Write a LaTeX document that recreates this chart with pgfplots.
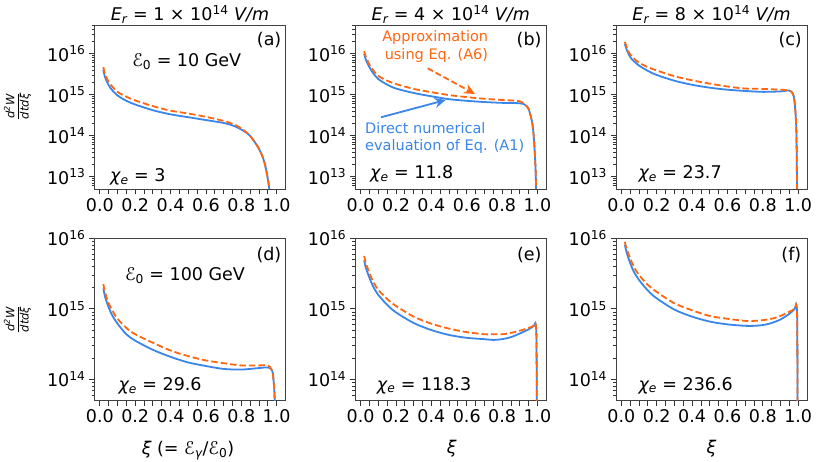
\documentclass[border=0pt]{standalone}
\usepackage{fontspec}
\setmainfont{DejaVu Sans}
\usepackage{pgfplots}
\pgfplotsset{compat=1.18}
\usetikzlibrary{arrows.meta}
\definecolor{cblue}{RGB}{58,134,232}
\definecolor{corange}{RGB}{255,102,17}
\newcommand{\fL}{\fontsize{17.5}{21}\selectfont}
\newcommand{\fM}{\fontsize{14.5}{17.5}\selectfont}
\newcommand{\fS}{\fontsize{11.5}{13}\selectfont}
\newcommand{\ylab}{$\displaystyle\frac{\hbox{\fS\itshape d\textsuperscript{2}W}}{\hbox{\fS\itshape dtdξ}}$}
\pgfplotsset{
  every axis/.append style={
    scale only axis, width=191pt,
    xmin=-0.03, xmax=1.05,
    xtick={0,0.05,0.1,0.15,0.2,0.25,0.3,0.35,0.4,0.45,0.5,0.55,0.6,0.65,0.7,0.75,0.8,0.85,0.9,0.95,1.0},
    xticklabels={0.0,,,,0.2,,,,0.4,,,,0.6,,,,0.8,,,,1.0},
    tick align=outside,
    xtick pos=left, ytick pos=left,
    major tick length=5.5pt, minor tick length=3pt,
    every tick/.style={black!80, line width=0.8pt},
    axis line style={black!75, line width=0.8pt},
    ticklabel style={font=\fL},
  },
}
\tikzset{
  blueline/.style={cblue, line width=1.8pt, smooth, tension=0.5},
  orangeline/.style={corange, line width=1.8pt, smooth, tension=0.5, dash pattern=on 6.5pt off 3pt},
}
\begin{document}
\begin{tikzpicture}
\useasboundingbox (0,0) rectangle (818pt,461pt);
% (a)
\begin{axis}[at={(94.5pt,272pt)}, anchor=south west, height=164pt, ymode=log, ymin=5e12, ymax=5e16,
    ytick={1e13,1e14,1e15,1e16},
    yticklabels={10\textsuperscript{13},10\textsuperscript{14},10\textsuperscript{15},10\textsuperscript{16}},
    minor ytick={6e12,7e12,8e12,9e12,2e13,3e13,4e13,5e13,6e13,7e13,8e13,9e13,2e14,3e14,4e14,5e14,6e14,7e14,8e14,9e14,2e15,3e15,4e15,5e15,6e15,7e15,8e15,9e15,2e16,3e16,4e16,5e16}]
\addplot[blueline] coordinates {(0.02,3.98e15)(0.03,2.63e15)(0.05,1.70e15)(0.07,1.29e15)(0.1,9.55e14)(0.15,7.08e14)(0.2,5.75e14)(0.3,4.17e14)(0.4,3.31e14)(0.5,2.82e14)(0.6,2.40e14)(0.7,2.04e14)(0.75,1.78e14)(0.8,1.41e14)(0.85,9.8e13)(0.9,4.8e13)(0.93,2.3e13)(0.95,8.9e12)(0.96,4e12)(0.965,1e12)};
\addplot[orangeline] coordinates {(0.02,4.68e15)(0.03,3.16e15)(0.05,2.04e15)(0.07,1.58e15)(0.1,1.17e15)(0.15,8.91e14)(0.2,7.24e14)(0.3,5.25e14)(0.4,4.07e14)(0.5,3.47e14)(0.6,2.88e14)(0.7,2.29e14)(0.75,1.95e14)(0.8,1.51e14)(0.85,9.8e13)(0.9,4.8e13)(0.93,2.3e13)(0.95,8.9e12)(0.96,4e12)(0.965,1e12)};
\end{axis}
% (b)
\begin{axis}[at={(355.3pt,272pt)}, anchor=south west, height=164pt, ymode=log, ymin=5e12, ymax=5e16,
    ytick={1e13,1e14,1e15,1e16},
    yticklabels={10\textsuperscript{13},10\textsuperscript{14},10\textsuperscript{15},10\textsuperscript{16}},
    minor ytick={6e12,7e12,8e12,9e12,2e13,3e13,4e13,5e13,6e13,7e13,8e13,9e13,2e14,3e14,4e14,5e14,6e14,7e14,8e14,9e14,2e15,3e15,4e15,5e15,6e15,7e15,8e15,9e15,2e16,3e16,4e16,5e16}]
\addplot[blueline] coordinates {(0.02,1.0e16)(0.03,7.08e15)(0.05,4.68e15)(0.07,3.39e15)(0.1,2.40e15)(0.15,1.76e15)(0.2,1.41e15)(0.3,1.10e15)(0.4,9.12e14)(0.5,7.76e14)(0.6,7.08e14)(0.7,6.61e14)(0.8,6.31e14)(0.9,6.17e14)(0.93,5.62e14)(0.95,4.47e14)(0.97,2.09e14)(0.98,8.3e13)(0.99,1.26e13)(0.995,1e12)};
\addplot[orangeline] coordinates {(0.02,1.15e16)(0.03,8.32e15)(0.05,5.37e15)(0.07,3.98e15)(0.1,2.88e15)(0.15,2.19e15)(0.2,1.82e15)(0.3,1.38e15)(0.4,1.15e15)(0.5,9.77e14)(0.6,8.71e14)(0.7,7.94e14)(0.8,7.41e14)(0.9,6.92e14)(0.93,5.62e14)(0.95,4.47e14)(0.97,2.09e14)(0.98,8.3e13)(0.99,1.26e13)(0.995,1e12)};
\end{axis}
% (c)
\begin{axis}[at={(616pt,272pt)}, anchor=south west, height=164pt, ymode=log, ymin=5e12, ymax=5e16,
    ytick={1e13,1e14,1e15,1e16},
    yticklabels={10\textsuperscript{13},10\textsuperscript{14},10\textsuperscript{15},10\textsuperscript{16}},
    minor ytick={6e12,7e12,8e12,9e12,2e13,3e13,4e13,5e13,6e13,7e13,8e13,9e13,2e14,3e14,4e14,5e14,6e14,7e14,8e14,9e14,2e15,3e15,4e15,5e15,6e15,7e15,8e15,9e15,2e16,3e16,4e16,5e16}]
\addplot[blueline] coordinates {(0.02,1.74e16)(0.03,1.26e16)(0.05,8.32e15)(0.07,6.61e15)(0.1,5.13e15)(0.15,3.80e15)(0.2,3.02e15)(0.3,2.19e15)(0.4,1.74e15)(0.5,1.48e15)(0.6,1.32e15)(0.7,1.23e15)(0.8,1.17e15)(0.9,1.20e15)(0.95,1.26e15)(0.97,1.05e15)(0.98,6.5e14)(0.99,1.2e14)(0.995,1e12)};
\addplot[orangeline] coordinates {(0.02,1.95e16)(0.03,1.45e16)(0.05,9.55e15)(0.07,7.76e15)(0.1,6.03e15)(0.15,4.68e15)(0.2,3.89e15)(0.3,2.82e15)(0.4,2.24e15)(0.5,1.86e15)(0.6,1.58e15)(0.7,1.41e15)(0.8,1.38e15)(0.9,1.32e15)(0.95,1.26e15)(0.97,1.05e15)(0.98,6.5e14)(0.99,1.2e14)(0.995,1e12)};
\end{axis}
% (d)
\begin{axis}[at={(94.5pt,60.3pt)}, anchor=south west, height=162.4pt, ymode=log, ymin=5e13, ymax=1e16,
    ytick={1e14,1e15,1e16},
    yticklabels={10\textsuperscript{14},10\textsuperscript{15},10\textsuperscript{16}},
    minor ytick={6e13,7e13,8e13,9e13,2e14,3e14,4e14,5e14,6e14,7e14,8e14,9e14,2e15,3e15,4e15,5e15,6e15,7e15,8e15,9e15}]
\addplot[blueline] coordinates {(0.02,1.95e15)(0.03,1.48e15)(0.05,1.05e15)(0.07,8.13e14)(0.1,6.17e14)(0.15,4.37e14)(0.2,3.55e14)(0.3,2.63e14)(0.4,2.09e14)(0.5,1.74e14)(0.6,1.55e14)(0.7,1.41e14)(0.8,1.38e14)(0.9,1.45e14)(0.95,1.48e14)(0.97,1.38e14)(0.98,1.12e14)(0.99,4e13)(0.995,1e12)};
\addplot[orangeline] coordinates {(0.02,2.24e15)(0.03,1.70e15)(0.05,1.20e15)(0.07,9.55e14)(0.1,7.24e14)(0.15,5.37e14)(0.2,4.37e14)(0.3,3.31e14)(0.4,2.57e14)(0.5,2.14e14)(0.6,1.86e14)(0.7,1.70e14)(0.8,1.58e14)(0.9,1.58e14)(0.95,1.58e14)(0.97,1.40e14)(0.98,1.12e14)(0.99,4e13)(0.995,1e12)};
\end{axis}
% (e)
\begin{axis}[at={(355.3pt,60.3pt)}, anchor=south west, height=162.4pt, ymode=log, ymin=5e13, ymax=1e16,
    ytick={1e14,1e15,1e16},
    yticklabels={10\textsuperscript{14},10\textsuperscript{15},10\textsuperscript{16}},
    minor ytick={6e13,7e13,8e13,9e13,2e14,3e14,4e14,5e14,6e14,7e14,8e14,9e14,2e15,3e15,4e15,5e15,6e15,7e15,8e15,9e15}]
\addplot[blueline] coordinates {(0.02,4.90e15)(0.03,3.80e15)(0.05,2.75e15)(0.07,2.09e15)(0.1,1.58e15)(0.15,1.14e15)(0.2,8.91e14)(0.3,6.31e14)(0.4,5.01e14)(0.5,4.27e14)(0.6,3.89e14)(0.7,3.72e14)(0.75,3.63e14)(0.8,3.72e14)(0.85,3.98e14)(0.9,4.47e14)(0.95,5.13e14)(0.98,5.75e14)(0.99,6.03e14)(0.995,2.51e14)(0.998,1e12)};
\addplot[orangeline] coordinates {(0.02,5.62e15)(0.03,4.42e15)(0.05,3.24e15)(0.07,2.45e15)(0.1,1.86e15)(0.15,1.38e15)(0.2,1.10e15)(0.3,7.76e14)(0.4,6.17e14)(0.5,5.25e14)(0.6,4.68e14)(0.7,4.37e14)(0.75,4.37e14)(0.8,4.37e14)(0.85,4.57e14)(0.9,4.90e14)(0.95,5.37e14)(0.98,5.75e14)(0.99,6.03e14)(0.995,2.51e14)(0.998,1e12)};
\end{axis}
% (f)
\begin{axis}[at={(616pt,60.3pt)}, anchor=south west, height=162.4pt, ymode=log, ymin=5e13, ymax=1e16,
    ytick={1e14,1e15,1e16},
    yticklabels={10\textsuperscript{14},10\textsuperscript{15},10\textsuperscript{16}},
    minor ytick={6e13,7e13,8e13,9e13,2e14,3e14,4e14,5e14,6e14,7e14,8e14,9e14,2e15,3e15,4e15,5e15,6e15,7e15,8e15,9e15}]
\addplot[blueline] coordinates {(0.02,8.13e15)(0.03,6.31e15)(0.05,4.47e15)(0.07,3.39e15)(0.1,2.57e15)(0.15,1.82e15)(0.2,1.41e15)(0.3,9.77e14)(0.4,7.76e14)(0.5,6.61e14)(0.6,6.03e14)(0.7,5.75e14)(0.75,5.75e14)(0.8,5.89e14)(0.85,6.31e14)(0.9,7.08e14)(0.95,8.51e14)(0.98,1.0e15)(0.99,1.12e15)(0.995,4.79e14)(0.998,1e12)};
\addplot[orangeline] coordinates {(0.02,8.91e15)(0.03,7.08e15)(0.05,5.25e15)(0.07,3.98e15)(0.1,3.02e15)(0.15,2.19e15)(0.2,1.74e15)(0.3,1.20e15)(0.4,9.55e14)(0.5,7.94e14)(0.6,7.24e14)(0.7,6.76e14)(0.75,6.76e14)(0.8,6.92e14)(0.85,7.24e14)(0.9,7.94e14)(0.95,9.12e14)(0.98,1.0e15)(0.99,1.12e15)(0.995,4.79e14)(0.998,1e12)};
\end{axis}
% titles
\node[anchor=base, font=\fL] at (190pt,440.5pt) {{\itshape E\textsubscript{r}} = 1 × 10\textsuperscript{14} {\itshape V/m}};
\node[anchor=base, font=\fL] at (450.8pt,440.5pt) {{\itshape E\textsubscript{r}} = 4 × 10\textsuperscript{14} {\itshape V/m}};
\node[anchor=base, font=\fL] at (711.5pt,440.5pt) {{\itshape E\textsubscript{r}} = 8 × 10\textsuperscript{14} {\itshape V/m}};
% panel letters
\node[anchor=base east, font=\fL, inner sep=0pt] at (281.5pt,415pt) {(a)};
\node[anchor=base east, font=\fL, inner sep=0pt] at (541.7pt,415pt) {(b)};
\node[anchor=base east, font=\fL, inner sep=0pt] at (802pt,415pt) {(c)};
\node[anchor=base east, font=\fL, inner sep=0pt] at (281.5pt,201pt) {(d)};
\node[anchor=base east, font=\fL, inner sep=0pt] at (541.7pt,201pt) {(e)};
\node[anchor=base east, font=\fL, inner sep=0pt] at (801.5pt,201pt) {(f)};
% energies
\node[anchor=base, font=\fL] at (186.7pt,394.3pt) {ℰ\textsubscript{0} = 10 GeV};
\node[anchor=base, font=\fL] at (185pt,181pt) {ℰ\textsubscript{0} = 100 GeV};
% chi
\node[anchor=base west, font=\fL, inner sep=0pt] at (110pt,279.5pt) {{\itshape χ\textsubscript{e}} = 3};
\node[anchor=base west, font=\fL, inner sep=0pt] at (370pt,282pt) {{\itshape χ\textsubscript{e}} = 11.8};
\node[anchor=base west, font=\fL, inner sep=0pt] at (638.3pt,282pt) {{\itshape χ\textsubscript{e}} = 23.7};
\node[anchor=base west, font=\fL, inner sep=0pt] at (118.3pt,70.5pt) {{\itshape χ\textsubscript{e}} = 29.6};
\node[anchor=base west, font=\fL, inner sep=0pt] at (376.7pt,71pt) {{\itshape χ\textsubscript{e}} = 118.3};
\node[anchor=base west, font=\fL, inner sep=0pt] at (638.3pt,71pt) {{\itshape χ\textsubscript{e}} = 236.6};
% annotations (b)
\node[anchor=base east, font=\fM, text=corange, inner sep=0pt] at (488.3pt,419.3pt) {Approximation};
\node[anchor=base east, font=\fM, text=corange, inner sep=0pt] at (488.3pt,401.7pt) {using Eq. (A6)};
\node[anchor=base west, font=\fM, text=cblue, inner sep=0pt] at (365pt,327.7pt) {Direct numerical};
\node[anchor=base west, font=\fM, text=cblue, inner sep=0pt] at (365pt,310.3pt) {evaluation of Eq. (A1)};
\draw[corange, line width=1.8pt, dash pattern=on 6pt off 3pt, -{Stealth[length=11pt,width=10pt]}] (427.7pt,392.7pt) -- (475pt,367pt);
\draw[cblue, line width=1.8pt, -{Stealth[length=11pt,width=10pt]}] (381pt,343.7pt) -- (445.7pt,361pt);
% y labels
\node[rotate=90] at (17.5pt,354.7pt) {\ylab};
\node[rotate=90] at (17.5pt,141.5pt) {\ylab};
% x labels
\node[anchor=north, font=\fL, inner sep=0pt] at (188pt,20pt) {{\itshape ξ} (= ℰ\textsubscript{\itshape γ}/ℰ\textsubscript{0})};
\node[anchor=north, font=\fL, inner sep=0pt] at (451.7pt,21pt) {\itshape ξ};
\node[anchor=north, font=\fL, inner sep=0pt] at (711.5pt,21pt) {\itshape ξ};
\end{tikzpicture}
\end{document}
